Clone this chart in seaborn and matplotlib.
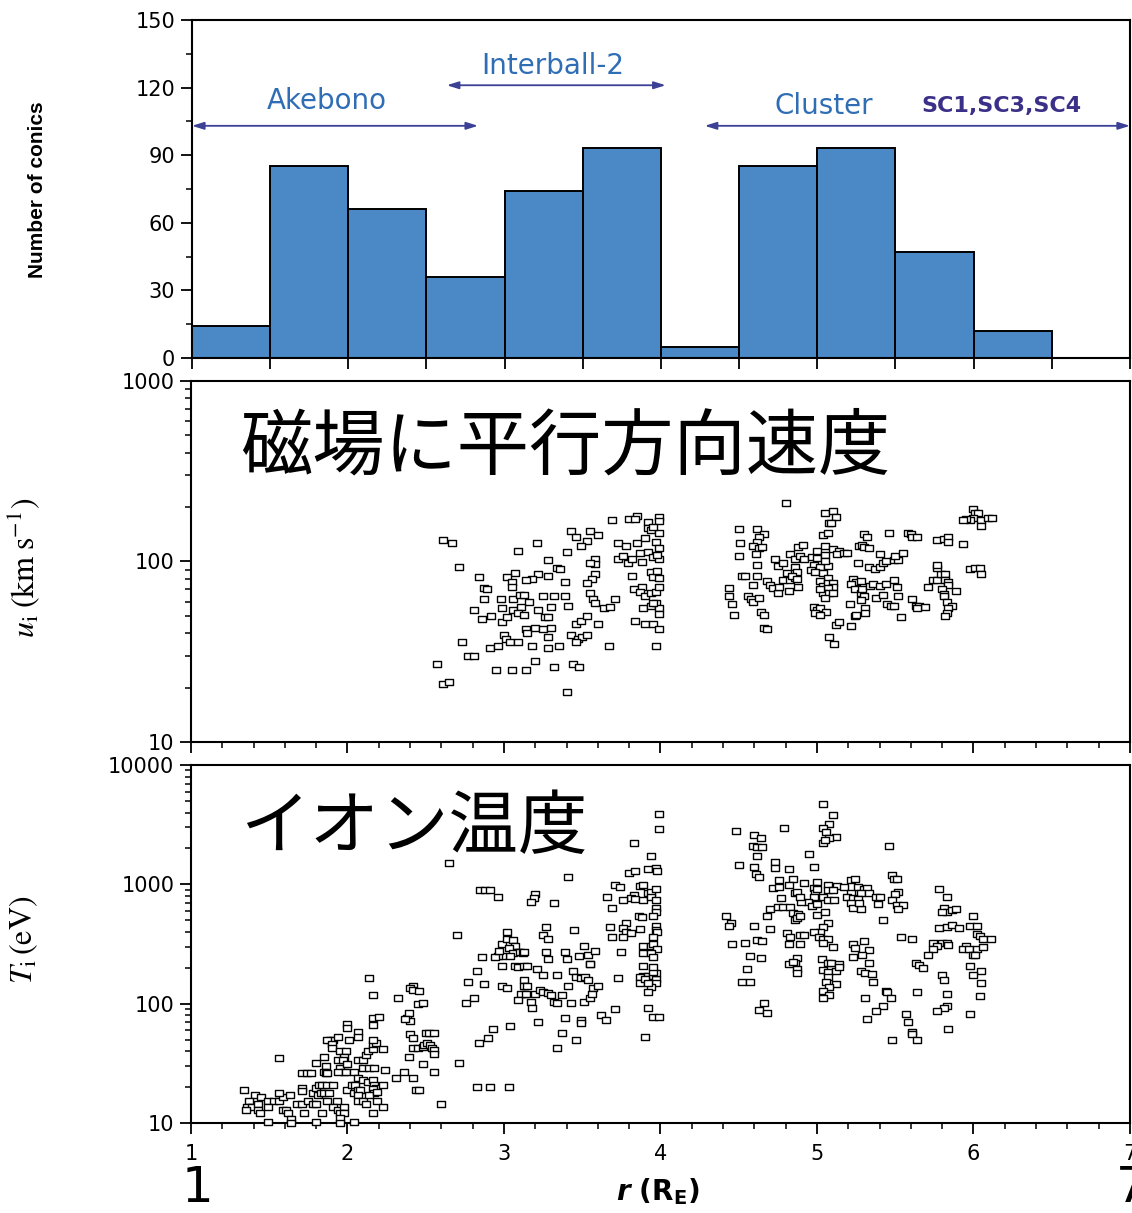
import matplotlib
matplotlib.use("Agg")
import matplotlib.pyplot as plt
import matplotlib.ticker as mticker
from matplotlib.path import Path
import seaborn as sns

# ---- top panel: number of conics per 0.5 R_E bin ----
bin_edges = [1.0, 1.5, 2.0, 2.5, 3.0, 3.5, 4.0, 4.5, 5.0, 5.5, 6.0, 6.5]
bin_centers = [1.25, 1.75, 2.25, 2.75, 3.25, 3.75, 4.25, 4.75, 5.25, 5.75, 6.25]
conic_counts = [14, 85, 66, 36, 74, 93, 5, 85, 93, 47, 12]

# mission coverage arrows: name, r start, r end, height
mission_names = ["Akebono", "Interball-2", "Cluster"]
mission_start = [1.0, 2.63, 4.28]
mission_end = [2.83, 4.03, 7.0]
mission_level = [103, 121, 103]

# ---- middle panel: parallel velocity u_i (km/s) vs r ----
u_r = [
    2.61, 2.67, 2.71, 3.21, 3.09, 3.43, 3.55, 3.46, 3.53, 3.49,
    3.60, 3.40, 3.28, 3.69, 3.80, 3.85, 3.84, 3.92, 3.99, 3.99,
    3.92, 3.94, 3.99, 3.95, 3.73, 3.78, 3.85, 3.90, 3.97, 3.99,
    3.58, 3.58, 3.55, 3.73, 3.76, 3.79, 3.82, 3.88, 3.87, 3.92,
    3.95, 3.99, 3.98, 3.34, 3.36, 3.28, 3.22, 3.18, 3.14, 3.07,
    3.02, 3.05, 3.05, 2.84, 3.39, 3.58, 3.56, 3.53, 3.82, 3.94,
    3.95, 3.99, 3.98, 2.87, 2.89, 2.87, 2.98, 3.06, 3.10, 3.13,
    3.16, 3.25, 3.32, 3.39, 3.55, 3.57, 3.58, 3.71, 3.83, 3.88,
    3.87, 3.90, 3.94, 3.97, 3.99, 2.81, 2.99, 3.06, 3.11, 3.09,
    3.13, 3.22, 3.30, 3.41, 2.86, 2.92, 2.99, 3.02, 3.26, 3.28,
    3.46, 3.49, 3.53, 3.60, 3.64, 3.68, 3.84, 3.90, 3.95, 3.89,
    3.94, 3.97, 3.99, 3.99, 3.95, 3.99, 3.14, 3.15, 3.20, 3.25,
    3.30, 3.28, 3.00, 3.01, 3.04, 3.09, 3.43, 3.47, 3.50, 3.53,
    3.46, 2.73, 2.91, 2.96, 3.18, 3.28, 3.35, 3.67, 3.97, 2.77,
    2.81, 2.57, 2.95, 3.05, 3.14, 3.20, 3.32, 3.44, 3.48, 2.61,
    2.65, 3.40,
    4.80, 4.50, 4.62, 4.66, 4.63, 4.62, 4.59, 4.63, 4.65, 4.61,
    4.51, 4.50, 4.62, 4.52, 4.54, 4.62, 4.59, 4.44, 4.44, 4.46,
    4.47, 4.56, 4.58, 4.59, 4.63, 4.64, 4.66, 4.66, 4.68, 4.73,
    4.75, 4.78, 4.68, 4.70, 4.72, 4.75, 4.76, 4.78, 4.81, 4.83,
    4.86, 4.88, 4.82, 4.83, 4.86, 4.88, 4.91, 4.89, 4.92, 4.97,
    5.00, 4.98, 5.02, 5.07, 4.96, 4.99, 5.04, 5.07, 4.86, 4.87,
    4.84, 4.87, 5.00, 5.05, 5.05, 5.05, 5.04, 5.07, 5.08, 5.05,
    5.10, 5.12, 5.09, 5.10, 5.14, 5.13, 5.17, 5.19, 5.02, 5.04,
    5.07, 5.10, 5.10, 5.07, 5.04, 5.08, 5.05, 5.02, 5.10, 4.98,
    5.00, 5.02, 5.06, 4.99, 5.02, 5.12, 5.14, 5.22, 5.08, 5.11,
    5.24, 5.25, 5.21, 5.23, 5.25, 5.28, 5.22, 5.24, 5.28, 5.30,
    5.28, 5.29, 5.31, 5.31, 5.26, 5.27, 5.29, 5.30, 5.33, 5.30,
    5.32, 5.33, 5.37, 5.40, 5.42, 5.44, 5.34, 5.36, 5.40, 5.44,
    5.38, 5.42, 5.40, 5.45, 5.47, 5.49, 5.49, 5.51, 5.46, 5.49,
    5.52, 5.50, 5.55, 5.52, 5.54, 5.58, 5.60, 5.61, 5.64, 5.61,
    5.63, 5.65, 5.69, 5.64, 5.77, 5.81, 5.84, 5.84, 5.93, 5.71,
    5.74, 5.77, 5.79, 5.82, 5.82, 5.84, 5.84, 5.77, 5.77, 5.80,
    5.81, 5.81, 5.89, 5.83, 5.86, 5.84, 5.83, 5.82, 6.00, 6.01,
    6.03, 6.00, 5.98, 5.95, 5.93, 6.05, 6.09, 6.12, 6.05, 5.98,
    6.01, 6.04, 6.05,
]
u_kms = [
    132, 127, 93, 127, 114, 148, 148, 137, 130, 122,
    140, 113, 102, 170, 172, 179, 172, 166, 176, 168,
    153, 149, 144, 155, 127, 122, 127, 135, 128, 119,
    103, 97, 98, 103, 107, 98, 103, 99, 111, 113,
    106, 103, 109, 92, 91, 83, 85, 80, 79, 86,
    82, 77, 72, 82, 77, 85, 80, 76, 83, 87,
    82, 81, 89, 71, 70, 62, 62, 62, 65, 65,
    60, 64, 64, 64, 67, 62, 59, 62, 70, 72,
    68, 64, 67, 68, 72, 54, 55, 54, 56, 52,
    50.5, 54, 56, 57, 48, 50, 46, 49, 49, 49,
    45, 47, 50, 45, 55, 56, 47, 45, 45, 55,
    57, 59, 55, 51, 59, 42, 42, 40, 43, 42,
    43, 38, 39, 37, 36, 36, 39, 37, 38, 39,
    36, 36, 33, 34, 34, 33, 34, 34, 34, 30,
    30, 27, 25, 25, 25, 28, 26, 27, 26, 21,
    21.5, 19,
    211, 151, 151, 142, 137, 128, 122, 119, 120, 110,
    127, 107, 96, 83, 83, 83, 74, 71, 64, 58,
    50.5, 64, 62, 60, 63, 52.5, 50.5, 43, 42, 103,
    94, 98, 78, 74, 71, 67, 72, 79, 86, 79,
    81, 72, 69, 110, 103, 120, 123, 107, 103, 106,
    105, 96, 93, 94, 90, 87, 86, 81, 93, 87,
    83, 80, 114, 122, 109, 101, 140, 144, 163, 186,
    190, 176, 163, 117, 114, 110, 111, 111, 78, 73,
    76, 76, 72, 71, 67, 67, 63, 70, 67, 56,
    54, 55, 52.5, 52, 50.5, 44.5, 46, 44, 38, 35,
    50, 50.5, 58, 80, 77, 78, 75, 70, 67, 64,
    61, 70, 55, 52, 98, 122, 123, 120, 119, 142,
    137, 93, 91, 93, 98, 101, 73, 75, 73, 75,
    63, 65, 110, 58, 57, 57, 79, 72, 144, 102,
    102, 107, 111, 64, 49, 144, 142, 137, 137, 62,
    57, 57, 56, 55, 132, 133, 137, 128, 125, 72,
    79, 79, 85, 85, 79, 77, 74, 92, 96, 70,
    66, 64, 69, 60, 57, 55, 52, 50, 195, 186,
    186, 174, 170, 172, 170, 170, 174, 174, 157, 91,
    92, 92, 85,
]

# ---- bottom panel: ion temperature T_i (eV) vs r ----
t_r = [
    1.34, 1.41, 1.45, 1.49, 1.53, 1.56, 1.59, 1.63, 1.56, 1.37,
    1.36, 1.39, 1.35, 1.43, 1.43, 1.44, 1.49, 1.49, 1.56, 1.59,
    1.61, 1.62, 1.64, 1.64, 1.71, 1.71, 1.68, 1.71, 1.75, 1.78,
    1.80, 1.72, 1.71, 1.74, 1.77, 1.78, 1.80, 1.82, 1.81, 1.83,
    1.85, 1.88, 1.84, 1.87, 1.91, 1.87, 1.93, 1.84, 1.80, 1.80,
    1.85, 1.86, 1.85, 1.86, 1.87, 1.89, 1.91, 1.87, 1.90, 1.90,
    1.94, 2.00, 2.00, 2.01, 2.07, 2.07, 1.95, 1.99, 1.98, 1.94,
    1.97, 1.95, 1.98, 1.94, 2.00, 1.99, 1.91, 1.94, 1.98, 1.95,
    1.98, 1.95, 1.95, 2.04, 2.00, 2.03, 2.05, 2.04, 2.07, 2.08,
    2.07, 2.07, 2.10, 2.12, 2.04, 2.07, 2.10, 2.13, 2.16, 2.17,
    2.18, 2.16, 2.17, 2.14, 2.19, 2.23, 2.07, 2.10, 2.12, 2.13,
    2.16, 2.16, 2.18, 2.23, 2.10, 2.14, 2.17, 2.16, 2.16, 2.16,
    2.20, 2.14, 2.16, 2.24, 2.19, 2.23, 2.16, 2.32, 2.31, 2.36,
    2.42, 2.39, 2.48, 2.55, 2.42, 2.45, 2.48, 2.49, 2.51, 2.53,
    2.50, 2.52, 2.55, 2.54, 2.55, 2.55, 2.40, 2.42, 2.38, 2.39,
    2.40, 2.37, 2.42, 2.40, 2.42, 2.46, 2.45, 2.48, 2.44, 2.46,
    2.60, 2.71, 2.77, 2.76, 2.81, 2.83, 2.87, 2.84, 2.90, 2.93,
    3.04, 2.83, 2.91, 3.03, 2.99, 2.99, 3.02, 3.07, 3.09, 3.13,
    3.15, 3.13, 3.13, 3.15, 3.13, 3.11, 3.14, 3.09, 3.17, 3.18,
    3.21, 3.25, 3.20, 3.23, 3.25, 3.28, 3.30, 3.32, 3.34, 3.37,
    3.34, 3.41, 3.22, 3.39, 3.37, 3.46, 3.34, 3.44, 3.46, 3.49,
    3.52, 3.54, 3.55, 3.43, 3.49, 3.49, 3.51, 3.55, 3.57, 3.56,
    3.60, 3.62, 3.65, 3.71, 3.73, 3.89, 3.89, 3.87, 3.87, 3.92,
    3.92, 3.95, 3.97, 3.97, 3.95, 3.95, 3.97, 3.94, 3.92, 3.90,
    3.92, 3.92, 3.95, 3.99, 3.90,
    3.99, 3.99, 3.83, 3.94, 2.65, 3.80, 3.84, 3.92, 3.97, 3.98,
    3.41, 3.71, 3.74, 3.87, 3.89, 2.85, 2.88, 2.91, 3.92, 3.94,
    3.97, 3.83, 3.81, 2.96, 3.20, 3.19, 3.17, 3.32, 3.66, 3.76,
    3.84, 3.89, 3.94, 3.97, 3.69, 3.97, 3.97, 3.86, 3.88, 3.95,
    3.78, 3.68, 3.76, 3.78, 3.81, 3.87, 3.97, 3.97, 3.98, 3.02,
    3.27, 3.45, 2.70, 3.25, 3.28, 3.69, 3.76, 3.95, 2.99, 3.02,
    3.06, 3.07, 3.03, 3.09, 3.06, 3.04, 2.99, 2.96, 2.94, 2.97,
    3.10, 3.12, 3.13, 2.86, 3.27, 3.28, 3.39, 3.40, 3.51, 3.48,
    3.54, 3.58, 3.55, 3.75, 3.89, 3.94, 3.95, 3.98, 3.89, 3.94,
    3.95,
    5.04, 5.10, 5.08, 5.04, 5.06, 5.12, 5.08, 5.04, 5.05, 4.79,
    4.48, 4.60, 4.64, 4.59, 4.62, 4.65, 4.62, 5.46, 4.95, 4.50,
    4.60, 4.61, 4.63, 4.73, 4.73, 4.82, 4.98, 4.76, 4.85, 4.92,
    5.00, 4.72, 4.76, 4.82, 4.86, 4.87, 4.98, 4.99, 5.00, 5.07,
    5.13, 5.07, 5.10, 5.17, 5.04, 5.07, 5.11, 4.98, 4.94, 4.97,
    5.00, 4.77, 4.90, 4.89, 4.70, 4.75, 4.78, 4.83, 5.22, 5.24,
    5.26, 5.30, 5.32, 5.28, 5.33, 5.22, 5.19, 5.23, 5.26, 5.22,
    5.23, 5.28, 5.27, 5.38, 5.40, 5.39, 5.48, 5.49, 5.51, 5.52,
    5.50, 5.48, 5.51, 5.55, 5.52, 4.42, 4.45, 4.44, 4.68, 4.85,
    4.88, 4.86, 4.87, 4.89, 5.00, 5.05, 5.07, 5.04, 5.02, 4.98,
    4.60, 4.70, 4.81, 4.83, 4.89, 4.92, 5.01, 5.04, 5.07, 5.04,
    5.10, 4.62, 4.65, 4.46, 4.54, 4.82, 4.89, 5.42, 5.54, 5.61,
    4.57, 4.64, 4.55, 4.52, 4.57, 4.87, 4.86, 4.82, 4.85, 4.87,
    4.87, 5.03, 5.07, 5.09, 5.14, 5.04, 5.07, 5.12, 5.14, 5.07,
    5.06, 5.12, 5.08, 5.04, 5.08, 5.04, 5.23, 5.24, 5.30, 5.33,
    5.29, 5.23, 5.33, 5.28, 5.31, 5.35, 5.36, 5.31, 5.44, 5.45,
    5.47, 5.42, 5.38, 5.32, 5.57, 5.58, 5.61, 5.61, 5.48, 5.64,
    5.64, 5.63, 5.65, 5.68, 5.80, 5.81, 5.83, 5.83, 5.81, 5.77,
    5.84, 4.66, 4.63, 4.68, 5.78, 5.83, 5.81, 5.83, 5.86, 5.89,
    5.80, 5.78, 5.83, 5.86, 5.91, 5.98, 6.02, 6.00, 6.02, 6.04,
    6.06, 6.11, 5.74, 5.80, 5.83, 5.84, 5.77, 5.74, 5.71, 5.95,
    5.93, 5.97, 6.02, 6.06, 6.00, 6.01, 5.98, 6.05, 6.00, 6.05,
    6.04, 5.98,
]
t_ev = [
    18.9, 17.1, 16.5, 15.3, 15.3, 15.3, 16.5, 17.1, 17.8, 15.3,
    13.6, 13.6, 12.8, 14.4, 12.8, 12.1, 13.6, 10.2, 35, 12.8,
    12.8, 12.1, 10.8, 10, 19.6, 18.5, 14.4, 14.4, 15.3, 14.4,
    14.4, 12.1, 26, 26, 26, 17.8, 19.6, 21, 17.1, 17.8,
    17.8, 17.8, 21, 21, 21, 15.3, 15.3, 12.1, 10.2, 32,
    36, 30, 27, 26, 26, 50, 50, 50, 46, 42.5,
    53, 67, 62, 49.5, 58, 53, 40, 40, 36, 34,
    34, 29, 27, 27, 31, 27, 13.6, 12.8, 13.6, 12.1,
    12.1, 11.0, 10, 10.2, 18.9, 21, 21, 17.8, 18.9, 18.9,
    17.1, 15.3, 15.3, 14.4, 27, 24, 23, 22, 23, 21,
    19.6, 19.2, 17.8, 17.1, 18.2, 21, 34, 34, 37, 40,
    42, 46, 47, 42, 29, 29, 29, 50, 66, 76,
    77, 164, 118, 28, 15.3, 13.6, 12.1, 111, 24, 27,
    24, 36, 31, 27, 42.5, 42.5, 43, 45, 47, 45,
    57, 57, 57, 42.5, 41, 38, 56, 52, 76, 83,
    71, 74, 140, 135, 130, 128, 99, 101, 18.9, 18.9,
    14.4, 32, 152, 101, 111, 188, 146, 47, 52, 61,
    65, 20, 20, 20, 207, 140, 135, 207, 203, 207,
    207, 158, 140, 140, 120, 120, 120, 107, 103, 92,
    195, 174, 120, 130, 125, 123, 118, 103, 101, 118,
    174, 140, 70, 76, 57, 50, 42.5, 188, 167, 164,
    167, 158, 215, 101, 73, 69, 103, 111, 135, 120,
    140, 80, 73, 90, 164, 207, 170, 167, 149, 170,
    161, 170, 161, 180, 184, 203, 149, 138, 125, 161,
    149, 92, 77, 77, 53,
    3880, 2910, 2220, 1726, 1510, 1244, 1292, 1343, 1371, 1292,
    1151, 987, 949, 968, 987, 896, 896, 896, 846, 862,
    914, 813, 768, 783, 830, 768, 711, 697, 783, 739,
    753, 739, 783, 739, 633, 633, 586, 542, 532, 542,
    474, 439, 430, 398, 391, 422, 447, 414, 398, 398,
    439, 414, 376, 376, 348, 362, 362, 362, 316, 348,
    341, 304, 293, 271, 265, 251, 251, 251, 246, 276,
    271, 265, 271, 246, 271, 237, 271, 237, 304, 251,
    255, 276, 215, 271, 304, 304, 316, 287, 265, 265,
    246,
    4710, 3810, 3200, 2965, 2745, 2490, 2445, 2220, 2350, 2965,
    2800, 2590, 2445, 2095, 2055, 2055, 1726, 2095, 1795, 1453,
    1396, 1220, 1151, 1538, 1371, 1343, 1396, 1086, 1107, 1025,
    1044, 931, 949, 987, 846, 862, 931, 846, 914, 987,
    968, 896, 896, 949, 783, 739, 739, 783, 711, 658,
    684, 768, 711, 783, 621, 645, 645, 645, 1086, 1107,
    949, 914, 931, 846, 846, 846, 783, 768, 753, 697,
    633, 621, 697, 783, 783, 684, 1197, 1107, 1107, 862,
    830, 739, 671, 671, 621, 542, 474, 447, 542, 575,
    564, 502, 522, 542, 553, 586, 474, 439, 398, 398,
    447, 422, 391, 362, 376, 376, 362, 348, 348, 322,
    298, 341, 335, 316, 322, 316, 316, 502, 362, 348,
    251, 241, 195, 152, 152, 241, 219, 215, 223, 195,
    180, 237, 219, 219, 215, 191, 184, 188, 203, 167,
    152, 146, 138, 128, 118, 111, 316, 293, 335, 281,
    255, 246, 219, 188, 180, 177, 152, 111, 128, 125,
    111, 95, 87, 74, 82, 70, 58, 56, 49.5, 49.5,
    125, 219, 211, 199, 174, 158, 120, 95, 92, 87,
    61, 101, 88, 83, 914, 783, 633, 586, 609, 621,
    586, 430, 439, 456, 430, 447, 447, 542, 383, 369,
    348, 348, 322, 322, 322, 310, 304, 287, 255, 304,
    287, 287, 287, 298, 255, 255, 207, 188, 174, 149,
    116, 82,
]

bar_color = "#4a88c6"
label_blue = "#2f6db5"
arrow_color = "#3c4196"
sc_color = "#3a3088"

sns.set_style("ticks")
plt.rcParams["font.family"] = ["DejaVu Sans"]
plt.rcParams["axes.linewidth"] = 1.5
for key in ("text.color", "axes.labelcolor", "xtick.color", "ytick.color", "axes.edgecolor"):
    plt.rcParams[key] = "black"

fig = plt.figure(figsize=(11.32, 12.13), dpi=100)
ax1 = fig.add_axes([0.1696, 0.7049, 0.8286, 0.2787])
ax2 = fig.add_axes([0.1687, 0.3883, 0.8295, 0.2976])
ax3 = fig.add_axes([0.1687, 0.0742, 0.8295, 0.2951])

# histogram
sns.histplot(x=bin_centers, weights=conic_counts, bins=bin_edges, ax=ax1,
             color=bar_color, edgecolor="black", linewidth=1.4, alpha=1)
ax1.set_xlim(1, 7)
ax1.set_ylim(0, 150)
ax1.yaxis.set_major_locator(mticker.MultipleLocator(30))
ax1.yaxis.set_minor_locator(mticker.MultipleLocator(15))
ax1.xaxis.set_major_locator(mticker.MultipleLocator(0.5))
ax1.tick_params(axis="x", labelbottom=False)
ax1.set_xlabel("")
ax1.set_ylabel("Number of conics", fontsize=15, fontweight="bold",
               family=["Liberation Sans Narrow", "Liberation Sans", "DejaVu Sans"],
               fontstretch="condensed")
ax1.yaxis.set_label_coords(-0.155, 0.497)

for name, r0, r1, lev in zip(mission_names, mission_start, mission_end, mission_level):
    ax1.annotate("", xy=(r0, lev), xytext=(r1, lev),
                 arrowprops=dict(arrowstyle="<|-|>,head_length=0.7,head_width=0.22",
                                 color=arrow_color, lw=1.3, shrinkA=0, shrinkB=0),
                 annotation_clip=False)
ax1.text(1.86, 114, "Akebono", color=label_blue, fontsize=20, ha="center", va="center")
ax1.text(3.31, 129.5, "Interball-2", color=label_blue, fontsize=20, ha="center", va="center")
ax1.text(5.04, 112, "Cluster", color=label_blue, fontsize=20, ha="center", va="center")
ax1.text(6.18, 112, "SC1,SC3,SC4", color=sc_color, fontsize=16, fontweight="bold",
         ha="center", va="center")

# open rectangle marker like the original plot symbols
box = Path([(-1, -0.72), (1, -0.72), (1, 0.72), (-1, 0.72), (-1, -0.72)], closed=True)

sns.scatterplot(x=u_r, y=u_kms, ax=ax2, marker=box, s=28, color="white",
                edgecolor="black", linewidth=1.0)
ax2.set_yscale("log")
ax2.set_xlim(1, 7)
ax2.set_ylim(10, 1000)
ax2.set_ylabel(r"$u_\mathrm{i}\;(\mathrm{km\;s^{-1}})$", fontsize=23, math_fontfamily="stix")
ax2.yaxis.set_label_coords(-0.159, 0.482)

sns.scatterplot(x=t_r, y=t_ev, ax=ax3, marker=box, s=28, color="white",
                edgecolor="black", linewidth=1.0, clip_on=False, zorder=5)
ax3.set_yscale("log")
ax3.set_xlim(1, 7)
ax3.set_ylim(10, 10000)
ax3.set_ylabel(r"$T_\mathrm{i}\,(\mathrm{eV})$", fontsize=23, math_fontfamily="stix")
ax3.yaxis.set_label_coords(-0.161, 0.511)
ax3.set_xlabel("")

fmt = mticker.FuncFormatter(lambda v, p: f"{v:g}")
for ax in (ax2, ax3):
    ax.xaxis.set_major_locator(mticker.MultipleLocator(1))
    ax.xaxis.set_minor_locator(mticker.MultipleLocator(0.2))
    ax.yaxis.set_major_locator(mticker.LogLocator(base=10))
    ax.yaxis.set_minor_locator(mticker.LogLocator(base=10, subs=range(2, 10)))
    ax.yaxis.set_major_formatter(fmt)
    ax.yaxis.set_minor_formatter(mticker.NullFormatter())
    ax.set_xlabel("")
ax2.tick_params(axis="x", labelbottom=False)
ax3.xaxis.set_major_formatter(fmt)

for ax in (ax1, ax2, ax3):
    ax.tick_params(which="major", direction="out", length=8, width=1.3,
                   labelsize=15, pad=4, top=False, right=False)
    ax.tick_params(which="minor", direction="out", length=4.5, width=1.1,
                   top=False, right=False)
    for sp in ax.spines.values():
        sp.set_linewidth(1.5)
        sp.set_color("black")
ax3.tick_params(axis="x", which="major", pad=7)

# Japanese annotations
fig.text(0.212, 0.6307, "磁場に平行方向速度", fontsize=52, va="center", ha="left",
         family=["Noto Sans CJK JP", "DejaVu Sans"])
fig.text(0.212, 0.3174, "イオン温度", fontsize=50, va="center", ha="left",
         family=["Noto Sans CJK JP", "DejaVu Sans"])

# axis label and big range markers at the bottom
fig.text(0.581, 0.0173, r"$\mathbfit{r}\ \mathbf{(R_E)}$", fontsize=20,
         ha="center", va="center", math_fontfamily="dejavusans")
fig.text(0.174, 0.021, "1", fontsize=36, ha="center", va="center")
fig.text(0.986, 0.021, "7", fontsize=36, ha="left", va="center")

fig.savefig("out.png", dpi=100)
